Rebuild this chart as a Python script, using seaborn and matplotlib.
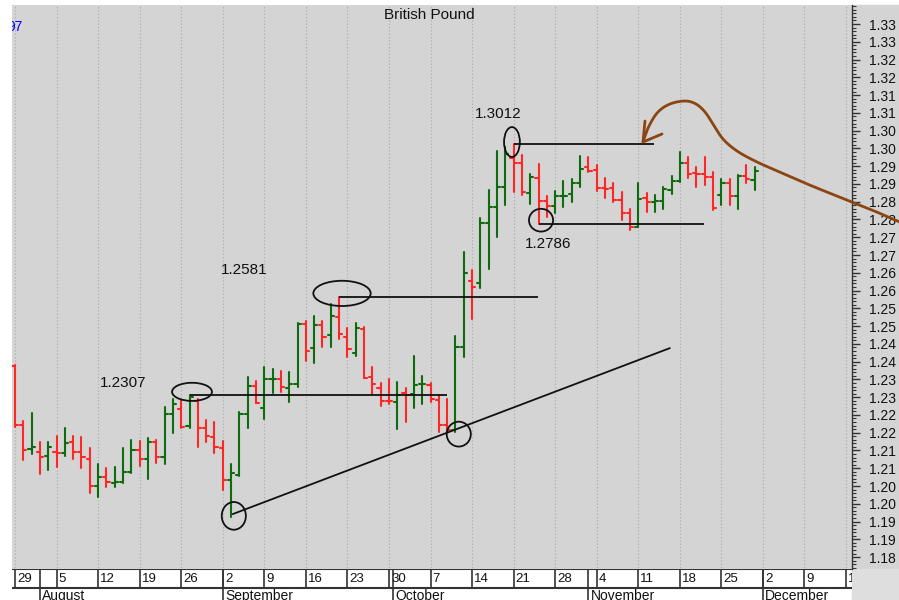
import numpy as np
import pandas as pd
import matplotlib
matplotlib.use('Agg')
import matplotlib.pyplot as plt
import seaborn as sns
from matplotlib.patches import Ellipse, Rectangle
from matplotlib.ticker import FixedLocator, MultipleLocator

# Daily GBP/USD bars, Jul 29 .. Nov 29 (weekdays), index 0..89
opens = [1.2388, 1.2222, 1.2154, 1.2147, 1.2135, 1.2145, 1.2144, 1.2175, 1.2145, 1.2127,
         1.2050, 1.2074, 1.2059, 1.2062, 1.2089, 1.2151, 1.2126, 1.2175, 1.2133, 1.2253,
         1.2266, 1.2219, 1.2290, 1.2212, 1.2189, 1.2156, 1.2067, 1.2081, 1.2253, 1.2332,
         1.2270, 1.2350, 1.2352, 1.2325, 1.2336, 1.2505, 1.2437, 1.2503, 1.2475, 1.2525,
         1.2470, 1.2423, 1.2492, 1.2358, 1.2325, 1.2290, 1.2287, 1.2311, 1.2308, 1.2336,
         1.2334, 1.2292, 1.2222, 1.2208, 1.2440, 1.2627, 1.2621, 1.2789, 1.2834, 1.2891,
         1.2972, 1.2958, 1.2874, 1.2916, 1.2852, 1.2838, 1.2866, 1.2871, 1.2903, 1.2947,
         1.2939, 1.2888, 1.2888, 1.2855, 1.2817, 1.2780, 1.2860, 1.2850, 1.2853, 1.2883,
         1.2908, 1.2960, 1.2930, 1.2928, 1.2920, 1.2869, 1.2903, 1.2867, 1.2923, 1.2911]
highs = [1.2391, 1.2233, 1.2256, 1.2175, 1.2173, 1.2191, 1.2212, 1.2191, 1.2187, 1.2156,
         1.2111, 1.2100, 1.2103, 1.2156, 1.2180, 1.2177, 1.2184, 1.2180, 1.2273, 1.2295,
         1.2292, 1.2307, 1.2294, 1.2236, 1.2229, 1.2177, 1.2111, 1.2257, 1.2358, 1.2346,
         1.2386, 1.2378, 1.2374, 1.2372, 1.2510, 1.2515, 1.2528, 1.2515, 1.2562, 1.2581,
         1.2494, 1.2508, 1.2498, 1.2386, 1.2339, 1.2350, 1.2344, 1.2325, 1.2417, 1.2360,
         1.2341, 1.2306, 1.2294, 1.2472, 1.2709, 1.2658, 1.2803, 1.2883, 1.2994, 1.3005,
         1.3012, 1.2981, 1.2928, 1.2955, 1.2867, 1.2880, 1.2908, 1.2913, 1.2979, 1.2975,
         1.2953, 1.2918, 1.2902, 1.2878, 1.2829, 1.2903, 1.2874, 1.2869, 1.2892, 1.2922,
         1.2989, 1.2977, 1.2947, 1.2977, 1.2934, 1.2914, 1.2913, 1.2925, 1.2953, 1.2947]
lows = [1.2216, 1.2123, 1.2140, 1.2084, 1.2095, 1.2104, 1.2135, 1.2126, 1.2100, 1.2029,
        1.2020, 1.2048, 1.2048, 1.2058, 1.2088, 1.2106, 1.2070, 1.2114, 1.2111, 1.2198,
        1.2214, 1.2214, 1.2161, 1.2175, 1.2144, 1.2039, 1.1964, 1.2079, 1.2214, 1.2283,
        1.2239, 1.2311, 1.2315, 1.2287, 1.2330, 1.2402, 1.2395, 1.2442, 1.2442, 1.2464,
        1.2414, 1.2417, 1.2353, 1.2308, 1.2276, 1.2280, 1.2210, 1.2229, 1.2270, 1.2280,
        1.2287, 1.2201, 1.2201, 1.2203, 1.2412, 1.2520, 1.2607, 1.2660, 1.2752, 1.2841,
        1.2878, 1.2869, 1.2844, 1.2786, 1.2806, 1.2817, 1.2836, 1.2850, 1.2891, 1.2934,
        1.2881, 1.2860, 1.2850, 1.2799, 1.2770, 1.2778, 1.2822, 1.2822, 1.2829, 1.2872,
        1.2906, 1.2916, 1.2891, 1.2897, 1.2827, 1.2841, 1.2841, 1.2829, 1.2902, 1.2883]
closes = [1.2222, 1.2151, 1.2161, 1.2133, 1.2159, 1.2143, 1.2170, 1.2145, 1.2133, 1.2051,
          1.2074, 1.2060, 1.2061, 1.2089, 1.2151, 1.2126, 1.2175, 1.2132, 1.2253, 1.2281,
          1.2217, 1.2300, 1.2212, 1.2191, 1.2159, 1.2067, 1.2088, 1.2253, 1.2332, 1.2285,
          1.2350, 1.2352, 1.2328, 1.2336, 1.2505, 1.2431, 1.2503, 1.2470, 1.2528, 1.2478,
          1.2436, 1.2494, 1.2355, 1.2336, 1.2290, 1.2289, 1.2306, 1.2306, 1.2334, 1.2337,
          1.2294, 1.2222, 1.2208, 1.2442, 1.2650, 1.2610, 1.2789, 1.2834, 1.2891, 1.2984,
          1.2958, 1.2876, 1.2920, 1.2852, 1.2838, 1.2866, 1.2867, 1.2903, 1.2942, 1.2937,
          1.2888, 1.2887, 1.2855, 1.2817, 1.2780, 1.2857, 1.2848, 1.2853, 1.2885, 1.2908,
          1.2958, 1.2928, 1.2928, 1.2920, 1.2833, 1.2903, 1.2867, 1.2923, 1.2913, 1.2937]

# weekly (Monday) labels of the date strip, every 5 bars starting at bar 0
day_labels = ['29', '5', '12', '19', '26', '2', '9', '16', '23', '30', '7',
              '14', '21', '28', '4', '11', '18', '25', '2', '9', '16']
month_names = ['August', 'September', 'October', 'November', 'December']
month_starts = [3, 25, 45.5, 69, 90]

# hand-drawn annotations: (bar index, price)
levels = [('1.2307', 1.2307, 21, 52), ('1.2581', 1.2581, 39, 62.9),
          ('1.3012', 1.3012, 60, 76.9), ('1.2786', 1.2786, 63, 82.9)]
level_text_pos = [(10.2, 1.2341), (24.8, 1.2658), (55.35, 1.3097), (61.4, 1.2732)]
trend_x = [26.2, 78.8]
trend_y = [1.1971, 1.2438]
# ellipses: center index, center price, width (bars), height (price)
ellipses = [(21.3, 1.2315, 4.8, 0.0051), (39.35, 1.2592, 6.9, 0.0071),
            (59.8, 1.3018, 1.9, 0.0084), (63.3, 1.2798, 2.9, 0.0064),
            (26.33, 1.1966, 2.9, 0.0078), (53.4, 1.2196, 2.9, 0.0070)]
# brown hand-drawn curve, in figure pixels
curve_px = [(643, 142), (649, 126), (658, 112), (670, 104), (685, 101), (696, 104),
            (705, 112), (713, 124), (723, 139), (737, 151), (757, 162), (782, 173),
            (812, 186), (842, 198), (872, 210), (902, 223)]
arrow_px = [(662, 134), (643, 142), (645, 121)]

BG = '#d4d4d4'
GREEN = '#0e6b0e'
RED = '#ff2626'
W, H = 899, 600

sns.set_style('white')
plt.rcParams['font.family'] = ['Liberation Sans', 'DejaVu Sans']

# build the OHLC segments as a long table
rows = []
for i, (o, h, l, c) in enumerate(zip(opens, highs, lows, closes)):
    d = 'up' if c >= o else 'down'
    rows += [(3 * i, i, l, d), (3 * i, i, h, d),
             (3 * i + 1, i - 0.38, o, d), (3 * i + 1, i, o, d),
             (3 * i + 2, i, c, d), (3 * i + 2, i + 0.38, c, d)]
seg = pd.DataFrame(rows, columns=['seg', 'x', 'y', 'dir'])

fig = plt.figure(figsize=(W / 100, H / 100), dpi=100)
fig.patch.set_facecolor('white')
fig.patches.append(Rectangle((852 / W, 31 / H), (W - 852) / W, 564 / H,
                             transform=fig.transFigure, color=BG, zorder=-5))
fig.patches.append(Rectangle((852 / W, 0), (W - 852) / W, 31 / H,
                             transform=fig.transFigure, color='#dedede', zorder=-5))

x0, x1 = -0.361, 100.72
ax = fig.add_axes([12 / W, 31 / H, 840 / W, 564 / H])
ax.set_facecolor(BG)
ax.set_xlim(x0, x1)
ax.set_ylim(1.18165, 1.34035)

week_idx = [5 * k for k in range(len(day_labels))]
ax.vlines(week_idx, 1.17, 1.35, colors='#a8a8a8', linestyles=(0, (1, 2)), lw=0.8, zorder=0)

sns.lineplot(data=seg, x='x', y='y', units='seg', hue='dir', estimator=None, sort=False,
             palette={'up': GREEN, 'down': RED}, legend=False, lw=1.5, ax=ax, zorder=3)

# annotations
for (txt, lvl, a, b), (tx, ty) in zip(levels, level_text_pos):
    ax.hlines(lvl, a, b, colors='#111111', lw=1.3, zorder=4)
    ax.text(tx, ty, txt, fontsize=11, color='#111111', va='center', ha='left')
ax.plot(trend_x, trend_y, color='#111111', lw=1.3, zorder=4)
for cx, cy, ew, eh in ellipses:
    ax.add_patch(Ellipse((cx, cy), ew, eh, fill=False, ec='#111111', lw=1.3, zorder=5))
ax.text(0.0125, 0.961, '97', transform=ax.transAxes, color='#0000ff', fontsize=10,
        ha='right', va='center', clip_on=True)

ax.set_xlabel('')
ax.set_ylabel('')
ax.set_xticks([])
ax.yaxis.tick_right()
yt = np.round(np.arange(1.185, 1.3351, 0.005), 3)
ax.yaxis.set_major_locator(FixedLocator(yt))
ax.set_yticklabels(['%.2f' % (np.floor(v * 100 + 1e-6) / 100) for v in yt])
ax.yaxis.set_minor_locator(MultipleLocator(0.001))
ax.tick_params(axis='y', which='major', right=True, length=6, width=1, color='#333333',
               labelsize=10, labelcolor='#111111', pad=6)
ax.tick_params(axis='y', which='minor', right=True, length=3, width=0.8, color='#333333')
for s in ['left', 'top', 'bottom']:
    ax.spines[s].set_visible(False)
ax.spines['right'].set_color('#333333')
ax.spines['right'].set_linewidth(1.0)

# date strip below the plot
ax2 = fig.add_axes([12 / W, 0, 840 / W, 31 / H])
ax2.set_facecolor(BG)
ax2.set_xlim(x0, x1)
ax2.set_ylim(0, 1)
ax2.axis('off')
ax2.patch.set_visible(True)
row = 12 / 31
ax2.axhline(1, color='#333333', lw=1.5)
ax2.axhline(row, color='#333333', lw=1.5)
ax2.vlines(week_idx, row, 1, colors='#333333', lw=1.2)
ax2.vlines(month_starts, 0, 1, colors='#333333', lw=1.2)
for k, lab in zip(week_idx, day_labels):
    ax2.text(k + 0.25, (1 + row) / 2, lab, fontsize=9.5, va='center', ha='left',
             color='#111111', clip_on=True)
for k, name in zip(month_starts, month_names):
    ax2.text(k + 0.25, row - 0.03, name, fontsize=10, va='top', ha='left',
             color='#111111', clip_on=True)

fig.text(429 / W, 1 - 15 / H, 'British Pound', fontsize=11, ha='center', va='center',
         color='#111111')

# overlay in pixel space for the brown hand-drawn arrow
ov = fig.add_axes([0, 0, 1, 1])
ov.set_xlim(0, W)
ov.set_ylim(H, 0)
ov.axis('off')
ov.patch.set_visible(False)


def catmull(pts, n=12):
    p = np.array(pts, dtype=float)
    p = np.vstack([p[0], p, p[-1]])
    out = []
    for j in range(1, len(p) - 2):
        p0, p1, p2, p3 = p[j - 1], p[j], p[j + 1], p[j + 2]
        for t in np.linspace(0, 1, n, endpoint=False):
            t2, t3 = t * t, t * t * t
            out.append(0.5 * ((2 * p1) + (-p0 + p2) * t + (2 * p0 - 5 * p1 + 4 * p2 - p3) * t2
                              + (-p0 + 3 * p1 - 3 * p2 + p3) * t3))
    out.append(p[-2])
    return np.array(out)


cv = catmull(curve_px)
ov.plot(cv[:, 0], cv[:, 1], color='#8b4513', lw=2.0, solid_capstyle='round')
ax_ = np.array(arrow_px)
ov.plot(ax_[:, 0], ax_[:, 1], color='#8b4513', lw=2.0, solid_capstyle='round',
        solid_joinstyle='round')

fig.savefig('out.png', dpi=100)
